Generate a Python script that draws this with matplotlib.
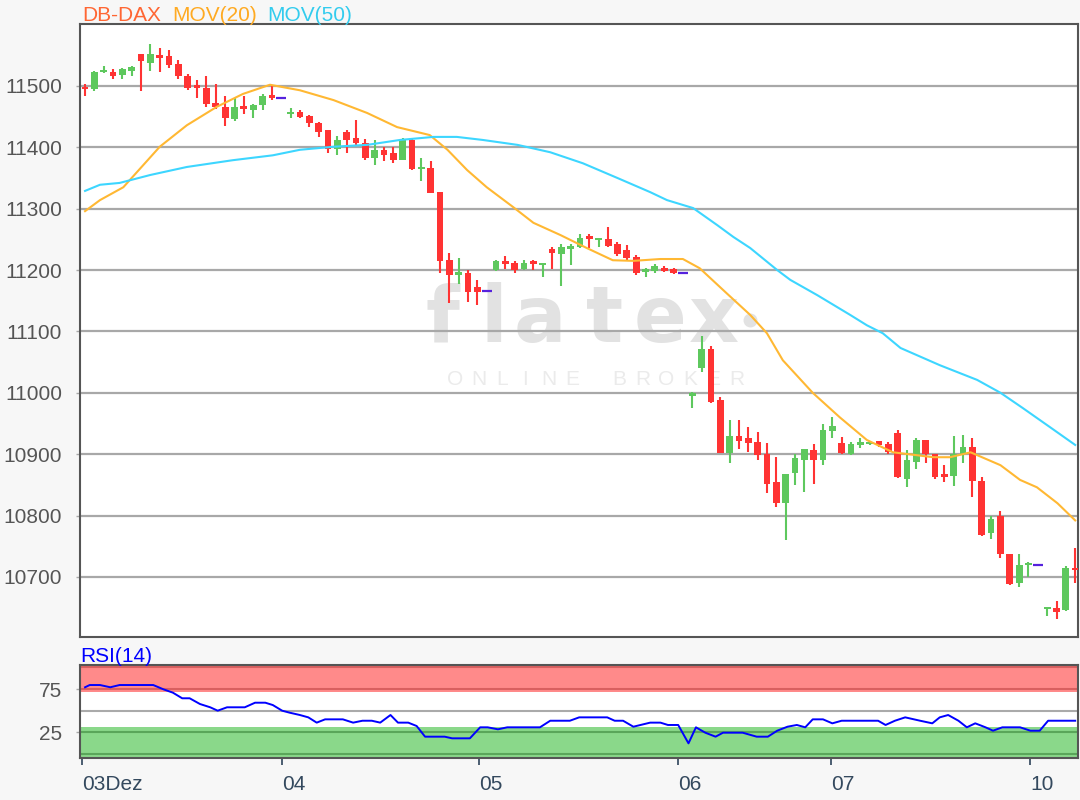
import matplotlib as mpl
mpl.use('Agg')
import matplotlib.pyplot as plt

# DB-DAX intraday candles, 03.12. - 10.12.
opens = [11498, 11495, 11523, 11523, 11518, 11524, 11552, 11537, 11549, 11549,
         11535, 11516, 11501, 11497, 11473, 11465, 11446, 11466, 11461, 11469,
         11486, 11480, 11455, 11458, 11451, 11439, 11428, 11398, 11425, 11415,
         11407, 11382, 11395, 11390, 11380, 11412, 11365, 11366, 11328, 11216,
         11193, 11196, 11173, 11166, 11200, 11213, 11211, 11201, 11213, 11209,
         11234, 11226, 11236, 11237, 11254, 11250, 11250, 11243, 11233, 11222,
         11198, 11199, 11202, 11201, 11196, 10996, 11040, 11072, 10988, 10902,
         10929, 10927, 10920, 10901, 10855, 10820, 10869, 10891, 10907, 10891,
         10938, 10918, 10901, 10916, 10917, 10921, 10917, 10934, 10860, 10888,
         10923, 10900, 10866, 10864, 10901, 10911, 10856, 10771, 10799, 10738,
         10690, 10720, 10720, 10648, 10650, 10646, 10714]
highs = [11503, 11524, 11533, 11528, 11530, 11533, 11552, 11568, 11562, 11559,
         11542, 11519, 11510, 11516, 11503, 11484, 11481, 11484, 11470, 11487,
         11501, 11480, 11464, 11461, 11453, 11442, 11428, 11418, 11428, 11445,
         11414, 11412, 11401, 11401, 11415, 11414, 11382, 11377, 11328, 11227,
         11219, 11200, 11184, 11166, 11216, 11223, 11215, 11217, 11217, 11212,
         11237, 11242, 11242, 11259, 11259, 11253, 11270, 11245, 11241, 11224,
         11203, 11210, 11206, 11203, 11196, 11002, 11092, 11076, 10993, 10955,
         10955, 10945, 10936, 10918, 10895, 10867, 10901, 10909, 10917, 10949,
         10961, 10928, 10920, 10926, 10921, 10922, 10919, 10940, 10906, 10927,
         10923, 10900, 10882, 10930, 10932, 10927, 10863, 10800, 10808, 10738,
         10737, 10725, 10720, 10651, 10660, 10717, 10747]
lows = [11484, 11492, 11521, 11511, 11512, 11517, 11492, 11524, 11522, 11530,
        11511, 11494, 11481, 11465, 11462, 11434, 11443, 11454, 11448, 11461,
        11477, 11480, 11448, 11448, 11433, 11417, 11390, 11388, 11390, 11404,
        11379, 11371, 11377, 11374, 11380, 11363, 11345, 11325, 11195, 11146,
        11178, 11148, 11143, 11166, 11199, 11201, 11195, 11200, 11200, 11188,
        11201, 11174, 11208, 11236, 11236, 11238, 11238, 11223, 11216, 11192,
        11188, 11196, 11197, 11194, 11196, 10976, 11034, 10983, 10902, 10885,
        10908, 10904, 10891, 10836, 10814, 10760, 10849, 10839, 10852, 10882,
        10927, 10901, 10898, 10910, 10915, 10912, 10901, 10861, 10846, 10875,
        10886, 10860, 10854, 10848, 10886, 10830, 10767, 10761, 10731, 10686,
        10683, 10700, 10720, 10637, 10631, 10644, 10690]
closes = [11496, 11522, 11525, 11517, 11528, 11531, 11541, 11552, 11547, 11534,
          11517, 11497, 11496, 11470, 11465, 11447, 11466, 11464, 11469, 11484,
          11481, 11480, 11457, 11450, 11439, 11425, 11398, 11412, 11412, 11407,
          11382, 11396, 11387, 11380, 11412, 11364, 11367, 11326, 11214, 11192,
          11196, 11165, 11165, 11166, 11215, 11211, 11200, 11211, 11211, 11211,
          11227, 11237, 11237, 11253, 11252, 11252, 11240, 11226, 11219, 11195,
          11200, 11206, 11200, 11195, 11196, 10998, 11072, 10985, 10902, 10929,
          10922, 10918, 10898, 10852, 10820, 10867, 10893, 10909, 10891, 10939,
          10946, 10902, 10917, 10918, 10919, 10915, 10903, 10863, 10890, 10923,
          10900, 10862, 10864, 10900, 10911, 10856, 10768, 10795, 10738, 10688,
          10720, 10722, 10720, 10650, 10642, 10715, 10712]

# moving averages (bar index, value)
ma20_x = [0, 1.6, 4.1, 8.0, 10.9, 14.1, 16.9, 19.8, 23.0, 26.6, 30.2, 33.4, 36.9,
          38.8, 40.9, 43.0, 45.8, 48.0, 50.9, 53.7, 56.5, 58.7, 61.6, 64.0, 65.8,
          68.7, 71.2, 73.0, 74.7, 77.9, 80.8, 83.7, 86.5, 90.8, 92.6, 94.8, 98.0,
          100.1, 101.9, 104.1, 106.0]
ma20 = [11296, 11314, 11335, 11401, 11436, 11466, 11487, 11502, 11493, 11477,
        11456, 11433, 11420, 11396, 11363, 11335, 11303, 11277, 11257, 11236,
        11216, 11215, 11218, 11218, 11203, 11162, 11127, 11097, 11053, 11000,
        10960, 10923, 10903, 10895, 10895, 10903, 10882, 10858, 10846, 10820, 10792]
ma50_x = [0, 1.6, 3.7, 7.0, 10.9, 15.8, 20.1, 23.0, 26.6, 30.2, 33.7, 37.3, 39.8,
          42.6, 46.3, 49.8, 53.3, 57.0, 60.5, 62.3, 65.1, 67.7, 69.4, 71.2, 74.1,
          75.5, 78.4, 81.9, 83.7, 85.4, 87.3, 91.5, 95.5, 98.0, 100.4, 103.3, 106.0]
ma50 = [11329, 11339, 11342, 11355, 11368, 11379, 11387, 11396, 11401, 11404,
        11412, 11417, 11417, 11412, 11404, 11392, 11374, 11350, 11327, 11314,
        11301, 11273, 11254, 11236, 11200, 11184, 11159, 11127, 11110, 11097,
        11073, 11045, 11021, 11000, 10975, 10944, 10915]

# RSI(14) (bar index, value)
rsi_x = [0, 0.5, 1.6, 2.7, 3.7, 7.3, 8.4, 9.4, 10.4, 11.2, 12.3, 13.4, 14.2, 15.2,
         17.1, 18.2, 19.3, 20.1, 21.1, 21.9, 23.0, 23.9, 24.8, 25.7, 27.6, 28.7,
         29.7, 30.7, 31.6, 32.7, 33.5, 34.6, 35.5, 36.4, 37.5, 38.5, 39.3, 41.2,
         42.3, 43.1, 44.2, 45.2, 46.9, 48.7, 49.8, 51.9, 52.9, 55.9, 56.7, 57.6,
         58.7, 60.5, 61.6, 62.4, 63.5, 64.6, 65.4, 66.4, 67.5, 68.3, 70.4, 71.9,
         73.1, 74.1, 75.2, 76.2, 77.1, 77.9, 79.0, 80.0, 81.0, 84.9, 85.7, 86.7,
         87.8, 89.4, 90.7, 91.5, 92.4, 93.5, 94.4, 95.3, 96.4, 97.2, 98.2, 100.1,
         101.2, 102.2, 103.1, 104.2, 106.0]
rsi = [77, 79.6, 79.6, 77, 79.6, 79.6, 74.6, 70.8, 64.3, 64.3, 57.7, 53.9, 50, 53.9,
       53.9, 59.2, 59.2, 56.5, 50, 47.7, 45, 42.3, 36.2, 40, 40, 36.2,
       38.4, 38.4, 36.2, 45, 36.2, 36.2, 32.3, 20, 20, 20, 18.1, 18.1,
       30.8, 30.8, 28.5, 30.8, 30.8, 30.8, 38.4, 38.4, 42.3, 42.3, 38.4, 38.4,
       31.5, 36.2, 36.2, 33.5, 33.5, 12.3, 30.8, 24.6, 20, 24.6, 24.6, 20,
       20, 26.9, 31.5, 33.5, 30.8, 40, 40, 35.4, 38.4, 38.4, 33.5, 38.4,
       42.3, 38.4, 35.4, 42.3, 45, 38.4, 30.8, 35.4, 30.8, 26.9, 30.8, 30.8,
       26.9, 26.9, 38.4, 38.4, 38.4]

day_pos = [-0.3, 21.1, 42.2, 63.5, 79.9, 101.2]
day_labels = ['03Dez', '04', '05', '06', '07', '10']

UP = '#5ec85e'
DOWN = '#ff3333'
FLAT = '#5522dd'
GRID = '#a8a8a8'
FRAME = '#555555'

plt.rcParams['font.family'] = ['Liberation Sans', 'DejaVu Sans']
plt.rcParams['font.size'] = 15

W, H = 1080, 800
fig = plt.figure(figsize=(W / 100, H / 100), dpi=100, facecolor='#f7f7f7')
ax = fig.add_axes([80 / W, 1 - 637 / H, 998 / W, 613 / H])
rx = fig.add_axes([80 / W, 1 - 758 / H, 998 / W, 93 / H])

# watermark
wm = dict(transform=fig.transFigure, zorder=0.2, ha='center', va='baseline',
          family='DejaVu Sans', weight='bold', color='#e2e2e2')
for ch, px in zip('flatex', [442, 494, 540, 605, 660, 714]):
    ax.text(px / W, 1 - 342 / H, ch, fontsize=56, **wm)
ax.plot([71.2], [11118], marker='o', ms=9, color='#e2e2e2', zorder=0.2)
for k, ch in enumerate('ONLINE BROKER'):
    ax.text((455 + k * 23.5) / W, 1 - 385 / H, ch, fontsize=15, color='#ebebeb',
            ha='center', va='baseline', transform=fig.transFigure, zorder=0.2)

# candles
for i in range(len(opens)):
    o, h, l, c = opens[i], highs[i], lows[i], closes[i]
    if h == l:
        ax.hlines(o, i - 0.55, i + 0.55, color=FLAT, lw=1.6, zorder=4)
        continue
    col = UP if c > o else DOWN
    ax.vlines(i, l, h, color=col, lw=1.5, zorder=4)
    body = abs(c - o)
    bottom = min(o, c)
    if body < 4:
        bottom = (o + c) / 2 - 2
        body = 4
    ax.bar(i, body, bottom=bottom, width=0.72, color=col, zorder=5)

ax.plot(ma20_x, ma20, color='#ffb833', lw=1.5, zorder=6)
ax.plot(ma50_x, ma50, color='#3dd6ff', lw=1.5, zorder=6)

ax.set_xlim(-0.54, 106.3)
ax.set_ylim(10602, 11601)
ax.set_yticks(range(10700, 11501, 100))
ax.grid(axis='y', color=GRID, lw=1.6)
ax.set_axisbelow(True)
ax.tick_params(axis='x', bottom=False, labelbottom=False)
ax.tick_params(axis='y', length=3, width=1, color=GRID, pad=10,
               labelcolor='#555555', labelsize=15)
for s in ax.spines.values():
    s.set_color(FRAME)
    s.set_linewidth(1.5)

# RSI panel
rlo, rhi = -4.6, 102.7
rx.axhspan(72, rhi, color='#ff8a8a', lw=0, zorder=0.1)
rx.axhspan(rlo, 31, color='#8ad88a', lw=0, zorder=0.1)
rx.axhline(100, color='#d96060', lw=1.5, zorder=0.3)
rx.axhline(75, color='#d96060', lw=1.5, zorder=0.3)
rx.axhline(25, color='#5aa65a', lw=1.5, zorder=0.3)
rx.axhline(0, color='#5aa65a', lw=1.5, zorder=0.3)
rx.axhline(50, color='#aaaaaa', lw=1.5, zorder=0.3)
rx.plot(rsi_x, rsi, color='#0000ff', lw=1.4, zorder=3)
rx.set_xlim(-0.54, 106.3)
rx.set_ylim(rlo, rhi)
rx.set_yticks([25, 75])
rx.tick_params(axis='y', length=3, width=1, color=GRID, pad=10,
               labelcolor='#555555', labelsize=15)
rx.set_xticks(day_pos, day_labels)
rx.tick_params(axis='x', length=5, width=1.3, color='#3d5166', pad=7,
               labelcolor='#34495e', labelsize=15)
for lbl in rx.get_xticklabels():
    lbl.set_ha('left')
for s in rx.spines.values():
    s.set_color(FRAME)
    s.set_linewidth(1.5)

# headers
fig.text(82 / W, 1 - 21 / H, 'DB-DAX', color='#ff6633', fontsize=15, va='baseline')
fig.text(172 / W, 1 - 21 / H, 'MOV(20)', color='#ffaa22', fontsize=15, va='baseline')
fig.text(267 / W, 1 - 21 / H, 'MOV(50)', color='#33ccee', fontsize=15, va='baseline')
fig.text(80 / W, 1 - 662 / H, 'RSI(14)', color='#0000ff', fontsize=15, va='baseline')

fig.savefig('out.png', dpi=100, facecolor=fig.get_facecolor())
